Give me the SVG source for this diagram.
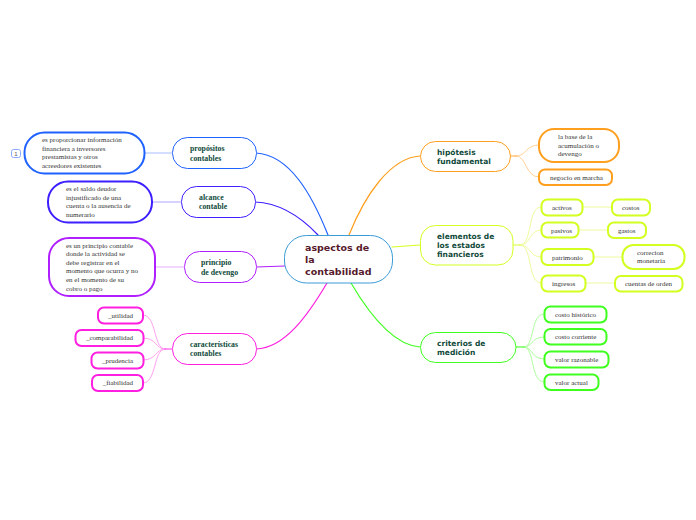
<svg xmlns="http://www.w3.org/2000/svg" width="696" height="520" viewBox="0 0 696 520">
<style>
rect{fill:#fff}
.c{fill:none;stroke-linecap:round}
.t{font-family:"Liberation Serif",serif;font-weight:bold;font-size:7.8px;fill:#0f4a3a}
.s{font-family:"DejaVu Sans",sans-serif;font-weight:bold;font-size:7.5px;fill:#0f4a3a}
.d{font-family:"Liberation Serif",serif;font-size:7px;fill:#333}
.m{font-family:"DejaVu Sans",sans-serif;font-weight:bold;font-size:9.5px;fill:#561a2c}
</style>
<rect width="696" height="520" fill="#fff"/>
<g id="connectors" class="c">
<path class="c" stroke="#1f62ff" stroke-width="1.2" d="M256 153C290 155 312 195 328 235"/>
<path class="c" stroke="#3d1fff" stroke-width="1.2" d="M255 202C280 203 302 218 318 235"/>
<path class="c" stroke="#b01fff" stroke-width="1.2" d="M256 267L285 266"/>
<path class="c" stroke="#ff1fe0" stroke-width="1.2" d="M256 349C285 348 308 315 327 283"/>
<path class="c" stroke="#ff9f1f" stroke-width="1.2" d="M420 156C390 158 365 195 349 235"/>
<path class="c" stroke="#d2ff1f" stroke-width="1.2" d="M392 247L420 245"/>
<path class="c" stroke="#3fff1f" stroke-width="1.2" d="M351 283C368 312 392 345 420 347"/>
<g stroke-width="1">
<path class="c" stroke="#a9bfff" d="M144 153H172"/>
<path class="c" stroke="#b0a4ff" d="M152 202H181"/>
<path class="c" stroke="#e4b0ff" d="M155 267H184"/>
<path class="c" stroke="#ffa0f0" d="M165 349C153 349 157 315 143 315M165 349C155 349 157 338 143 338M165 349C155 349 157 360 143 360M165 349C153 349 157 383 143 383"/>
<path class="c" stroke="#ff1fe0" stroke-opacity=".6" stroke-width="1.5" d="M165 349H172"/>
<path class="c" stroke="#ffd097" d="M516 156C527 156 525 145 539 145M516 156C527 156 525 177 539 177"/>
<path class="c" stroke="#ff9f1f" stroke-opacity=".6" stroke-width="1.4" d="M510 156H516"/>
<path class="c" stroke="#effa9d" d="M520 245C533 245 527 207 541 207M520 245C531 245 529 230 541 230M520 245C531 245 529 257 541 257M520 245C533 245 527 283 541 283M582 207H611M578 230H608M593 257H622M585 283H615"/>
<path class="c" stroke="#d2ff1f" stroke-opacity=".6" stroke-width="1.4" d="M513 245H520"/>
<path class="c" stroke="#adff9d" d="M524 347C535 347 530 314 544 314M524 347C533 347 531 337 544 337M524 347C533 347 531 359 544 359M524 347C535 347 530 382 544 382"/>
<path class="c" stroke="#3fff1f" stroke-opacity=".7" stroke-width="1.5" d="M516 347H524"/>
</g>
</g>
<g id="n0"><rect x="284.500" y="235.500" width="108" height="47.500" rx="22" stroke="#3a9bd6" stroke-width="1"/><text class="m" x="305" y="251">aspectos de</text><text class="m" x="305" y="263">la</text><text class="m" x="305" y="275">contabilidad</text></g>
<g id="n1"><rect x="172.500" y="137.500" width="84" height="31" rx="15" stroke="#1f62ff" stroke-width="1"/><text class="t" x="190" y="151">propósitos</text><text class="t" x="190" y="161">contables</text></g>
<g id="n1a"><rect x="24.500" y="132.500" width="120" height="41" rx="20" stroke="#1f62ff" stroke-width="2"/><text class="d" x="42" y="142">es proporcionar información</text><text class="d" x="42" y="151">financiera a inversores</text><text class="d" x="42" y="159">prestamistas y otros</text><text class="d" x="42" y="168">acreedores existentes</text></g>
<g id="badge"><rect x="11.500" y="149.500" width="9" height="8" rx="2" stroke="#8aa8ff" stroke-width="1"/><text x="16" y="155.500" text-anchor="middle" font-family="Liberation Sans,sans-serif" font-size="6" fill="#555">1</text></g>
<g id="n2"><rect x="181.500" y="186.500" width="74" height="31" rx="15" stroke="#3d1fff" stroke-width="1"/><text class="t" x="199" y="200">alcance</text><text class="t" x="199" y="209">contable</text></g>
<g id="n2a"><rect x="48" y="181.500" width="104" height="41" rx="20" stroke="#3d1fff" stroke-width="2"/><text class="d" x="66" y="191">es el saldo deudor</text><text class="d" x="66" y="200">injustificado de una</text><text class="d" x="66" y="208">cuenta o la ausencia de</text><text class="d" x="66" y="217">numerario</text></g>
<g id="n3"><rect x="184.500" y="251.500" width="72" height="31" rx="15" stroke="#b01fff" stroke-width="1"/><text class="t" x="201" y="265">principio</text><text class="t" x="201" y="275">de devengo</text></g>
<g id="n3a"><rect x="49" y="238" width="106" height="58" rx="20" stroke="#b01fff" stroke-width="2"/><text class="d" x="66" y="248">es un principio contable</text><text class="d" x="66" y="256">donde la actividad se</text><text class="d" x="66" y="265">debe registrar en el</text><text class="d" x="66" y="273">momento que ocurra y no</text><text class="d" x="66" y="282">en el momento de su</text><text class="d" x="66" y="291">cobro o pago</text></g>
<g id="n4"><rect x="172.500" y="333.500" width="84" height="31" rx="15" stroke="#ff1fe0" stroke-width="1"/><text class="t" x="190" y="347">características</text><text class="t" x="190" y="356">contables</text></g>
<g id="n4a"><rect x="98" y="307.500" width="45" height="16" rx="6" stroke="#ff1fe0" stroke-width="2"/><text class="d" x="133" y="318" text-anchor="end">_utilidad</text></g>
<g id="n4b"><rect x="75.500" y="330" width="68" height="16" rx="6" stroke="#ff1fe0" stroke-width="2"/><text class="d" x="133" y="340" text-anchor="end">_comparabilidad</text></g>
<g id="n4c"><rect x="91.500" y="352.500" width="52" height="16" rx="6" stroke="#ff1fe0" stroke-width="2"/><text class="d" x="133" y="363" text-anchor="end">_prudencia</text></g>
<g id="n4d"><rect x="92" y="375" width="51" height="16" rx="6" stroke="#ff1fe0" stroke-width="2"/><text class="d" x="133" y="385" text-anchor="end">_fiabilidad</text></g>
<g id="n5"><rect x="420.500" y="141.500" width="90" height="30" rx="15" stroke="#ff9f1f" stroke-width="1"/><text class="s" x="437" y="155">hipótesis</text><text class="s" x="437" y="164">fundamental</text></g>
<g id="n5a"><rect x="539" y="129" width="80" height="33" rx="15" stroke="#ff9f1f" stroke-width="2"/><text class="d" x="558" y="139">la base de la</text><text class="d" x="558" y="148">acumulación o</text><text class="d" x="558" y="156">devengo</text></g>
<g id="n5b"><rect x="539" y="169.500" width="73" height="15.500" rx="6" stroke="#ff9f1f" stroke-width="2"/><text class="d" x="550" y="179.500">negocio en marcha</text></g>
<g id="n6"><rect x="420.500" y="225.500" width="92.500" height="39.500" rx="15" stroke="#d2ff1f" stroke-width="1"/><text class="s" x="437" y="239">elementos de</text><text class="s" x="437" y="248">los estados</text><text class="s" x="437" y="257">financieros</text></g>
<g id="n6a"><rect x="541.500" y="199.500" width="41" height="16" rx="6" stroke="#d2ff1f" stroke-width="2"/><text class="d" x="552" y="210">activos</text></g>
<g id="n6a1"><rect x="612" y="199.500" width="38" height="16" rx="6" stroke="#d2ff1f" stroke-width="2"/><text class="d" x="622" y="210">costos</text></g>
<g id="n6b"><rect x="541.500" y="222.500" width="37" height="15" rx="6" stroke="#d2ff1f" stroke-width="2"/><text class="d" x="551" y="232.500">pasivos</text></g>
<g id="n6b1"><rect x="608" y="222.500" width="38" height="15.500" rx="6" stroke="#d2ff1f" stroke-width="2"/><text class="d" x="618" y="232.500">gastos</text></g>
<g id="n6c"><rect x="541.500" y="249" width="52" height="16" rx="6" stroke="#d2ff1f" stroke-width="2"/><text class="d" x="552" y="259.500">patrimonio</text></g>
<g id="n6c1"><rect x="622.500" y="245" width="62" height="24" rx="11" stroke="#d2ff1f" stroke-width="2"/><text class="d" x="637" y="255">correcion</text><text class="d" x="637" y="263">monetaria</text></g>
<g id="n6d"><rect x="541.500" y="275.500" width="44" height="16" rx="6" stroke="#d2ff1f" stroke-width="2"/><text class="d" x="552" y="286">ingresos</text></g>
<g id="n6d1"><rect x="615" y="276" width="67.500" height="15.500" rx="6" stroke="#d2ff1f" stroke-width="2"/><text class="d" x="625" y="286">cuentas de orden</text></g>
<g id="n7"><rect x="420.500" y="332.500" width="95.500" height="30" rx="15" stroke="#3fff1f" stroke-width="1"/><text class="s" x="437" y="346">criterios de</text><text class="s" x="437" y="355">medición</text></g>
<g id="n7a"><rect x="544.500" y="306.500" width="62" height="16" rx="6" stroke="#3fff1f" stroke-width="2"/><text class="d" x="555" y="317">costo histórico</text></g>
<g id="n7b"><rect x="544.500" y="329" width="62" height="15.500" rx="6" stroke="#3fff1f" stroke-width="2"/><text class="d" x="555" y="339">costo corriente</text></g>
<g id="n7c"><rect x="544.500" y="351.500" width="64" height="16" rx="6" stroke="#3fff1f" stroke-width="2"/><text class="d" x="555" y="362">valor razonable</text></g>
<g id="n7d"><rect x="544.500" y="374.500" width="54" height="15.500" rx="6" stroke="#3fff1f" stroke-width="2"/><text class="d" x="555" y="384.500">valor actual</text></g>
</svg>
